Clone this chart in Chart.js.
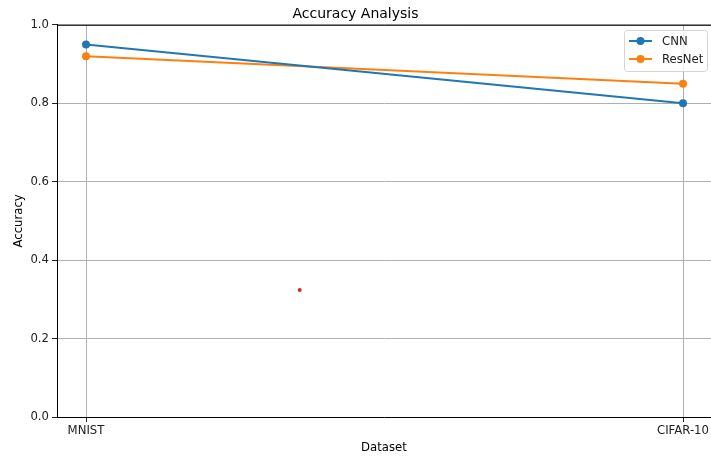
<!DOCTYPE html>
<html>
<head>
<meta charset="utf-8">
<script src="https://cdn.jsdelivr.net/npm/chart.js@4/dist/chart.umd.min.js"></script>
<style>
    html, body { margin: 0; padding: 0; background: #fff; overflow: hidden; }
    #wrap { width: 711px; height: 457px; }
</style>
</head>
<body>
<div id="wrap"><canvas id="grafico"></canvas></div>
<script>
// --- Dados do gráfico ---
const datasetsNomes = ['MNIST', 'CIFAR-10'];
const accCNN = [0.95, 0.80];
const accResNet = [0.92, 0.85];
const yTicks = [0.0, 0.2, 0.4, 0.6, 0.8, 1.0];
// ponto vermelho solto no meio do gráfico
const pontoSolto = [{ x: 0.358, y: 0.324 }];

const fonte = 'DejaVu Sans, Verdana, sans-serif';

// transforma os valores por categoria em pontos {x, y}
function paraPontos(valores) {
    return valores.map((v, i) => ({ x: i, y: v }));
}

// Borda superior do eixo e legenda dentro da área (estilo matplotlib)
const pluginMoldura = {
    id: 'moldura',
    afterDraw(chart) {
        const { ctx, chartArea } = chart;
        ctx.save();
        ctx.strokeStyle = '#000';
        ctx.lineWidth = 1;
        ctx.beginPath();
        ctx.moveTo(chartArea.left, chartArea.top + 0.5);
        ctx.lineTo(chartArea.right, chartArea.top + 0.5);
        ctx.stroke();

        // legenda
        const series = chart.data.datasets.filter(d => d.label);
        const bx = 624, by = 30, bw = 83, bh = 41;
        ctx.fillStyle = 'rgba(255,255,255,0.8)';
        ctx.strokeStyle = '#d5d5d5';
        ctx.beginPath();
        ctx.roundRect(bx + 0.5, by + 0.5, bw, bh, 3);
        ctx.fill();
        ctx.stroke();
        series.forEach((d, i) => {
            const yy = by + 11 + i * 18;
            ctx.strokeStyle = d.borderColor;
            ctx.lineWidth = 2;
            ctx.beginPath();
            ctx.moveTo(bx + 5, yy);
            ctx.lineTo(bx + 28, yy);
            ctx.stroke();
            ctx.fillStyle = d.borderColor;
            ctx.beginPath();
            ctx.arc(bx + 16.5, yy, 4, 0, Math.PI * 2);
            ctx.fill();
            ctx.fillStyle = '#222';
            ctx.font = '11.7px ' + fonte;
            ctx.textBaseline = 'middle';
            ctx.textAlign = 'left';
            ctx.fillText(d.label, bx + 38, yy + 1);
        });
        ctx.restore();
    }
};

new Chart(document.getElementById('grafico'), {
    type: 'line',
    data: {
        datasets: [
            {
                label: 'CNN',
                data: paraPontos(accCNN),
                borderColor: '#1f77b4',
                backgroundColor: '#1f77b4',
                borderWidth: 2,
                pointRadius: 4,
                pointBorderWidth: 0
            },
            {
                label: 'ResNet',
                data: paraPontos(accResNet),
                borderColor: '#ff7f0e',
                backgroundColor: '#ff7f0e',
                borderWidth: 2,
                pointRadius: 4,
                pointBorderWidth: 0
            },
            {
                label: '',
                data: pontoSolto,
                showLine: false,
                borderColor: '#d62728',
                backgroundColor: '#d62728',
                pointRadius: 2,
                pointBorderWidth: 0
            }
        ]
    },
    options: {
        responsive: true,
        maintainAspectRatio: false,
        animation: false,
        events: [],
        layout: { padding: 0, autoPadding: false },
        plugins: {
            legend: { display: false },
            tooltip: { enabled: false },
            title: {
                display: true,
                text: 'Accuracy Analysis',
                color: '#000',
                font: { size: 14, family: fonte, weight: 'normal' },
                padding: { top: 6, bottom: 2 }
            }
        },
        scales: {
            x: {
                type: 'linear',
                min: -0.0486,
                max: 1.0469,
                afterBuildTicks: s => { s.ticks = [0, 1].map(v => ({ value: v })); },
                afterFit: s => { s.height = 40; s.paddingLeft = 0; s.paddingRight = 0; },
                ticks: {
                    color: '#222',
                    font: { size: 11.7, family: fonte },
                    padding: 2,
                    maxRotation: 0,
                    callback: v => datasetsNomes[v]
                },
                grid: { color: '#b0b0b0', lineWidth: 1, tickLength: 5, tickColor: '#222' },
                border: { color: '#000', width: 1 },
                title: {
                    display: true,
                    text: 'Dataset',
                    color: '#000',
                    font: { size: 11.7, family: fonte },
                    padding: { top: 0, bottom: 2 }
                }
            },
            y: {
                min: 0,
                max: 1,
                afterBuildTicks: s => { s.ticks = yTicks.map(v => ({ value: v })); },
                afterFit: s => { s.width = 57; s.paddingTop = 0; s.paddingBottom = 0; },
                ticks: {
                    color: '#222',
                    font: { size: 11.7, family: fonte },
                    padding: 3,
                    callback: v => v.toFixed(1)
                },
                grid: { color: '#b0b0b0', lineWidth: 1, tickLength: 5, tickColor: '#222' },
                border: { color: '#000', width: 1 },
                title: {
                    display: true,
                    text: 'Accuracy',
                    color: '#000',
                    font: { size: 11.7, family: fonte },
                    padding: { top: 12, bottom: 0 }
                }
            }
        }
    },
    plugins: [pluginMoldura]
});
</script>
</body>
</html>
